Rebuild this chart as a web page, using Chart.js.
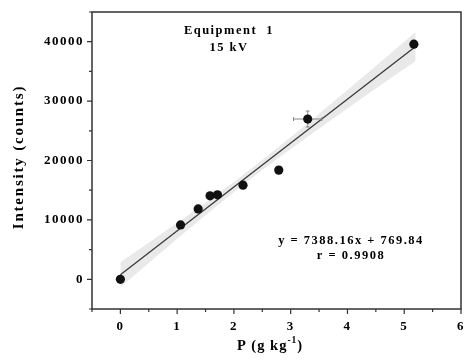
<!DOCTYPE html>
<html><head><meta charset="utf-8">
<script src="https://cdn.jsdelivr.net/npm/chart.js@4/dist/chart.umd.min.js"></script>
<style>html,body{margin:0;padding:0;background:#fff}#wrap{width:466px;height:361px}</style>
</head><body><div id="wrap"><canvas id="c" width="466" height="361"></canvas></div>
<script>
const concP = [0, 1.06, 1.37, 1.58, 1.71, 2.16, 2.79, 3.30, 5.17];
const intensity = [0, 9150, 11850, 14050, 14220, 15850, 18380, 26980, 39580];
const errP = [0, 0, 0, 0, 0, 0, 0, 0.25, 0];
const errI = [0, 0, 0, 0, 0, 0, 0, 1350, 0];
const fitX = [0, 5.2];
const fitY = [769.84, 39188.27];
const bandX = [0, 0.5, 1, 1.5, 2, 2.5, 3, 3.5, 4, 4.5, 5.2];
const bandUpper = [2870, 6160, 9510, 12900, 16400, 20090, 23930, 27880, 31870, 35920, 41640];
const bandLower = [-1330, 2760, 6810, 10800, 14700, 18390, 21930, 25380, 28770, 32120, 36740];
const xTickLabels = [0, 1, 2, 3, 4, 5, 6];
const yTickLabels = [0, 10000, 20000, 30000, 40000];
const xTitle = ['P (g kg', '-1', ')'];
const yTitle = 'Intensity (counts)';
const noteTop = ['Equipment  1', '15 kV'];
const noteEq = ['y = 7388.16x + 769.84', 'r = 0.9908'];

const FONT = "'Liberation Serif', 'Times New Roman', serif";
Chart.defaults.font.family = FONT;
Chart.defaults.color = '#000';

const pts = concP.map((x, i) => ({x, y: intensity[i]}));

const decor = {
  id: 'decor',
  beforeDraw(chart) { chart.ctx.letterSpacing = '1.5px'; },
  beforeDatasetDraw(chart, args) {
    if (args.index !== 3) return;
    const ctx = chart.ctx, xs = chart.scales.x, ys = chart.scales.y;
    ctx.save();
    ctx.strokeStyle = '#888'; ctx.lineWidth = 1;
    concP.forEach((p, i) => {
      const px = xs.getPixelForValue(p), py = ys.getPixelForValue(intensity[i]);
      if (errP[i] > 0) {
        const a = xs.getPixelForValue(p - errP[i]), b = xs.getPixelForValue(p + errP[i]);
        ctx.beginPath(); ctx.moveTo(a, py); ctx.lineTo(b, py);
        ctx.moveTo(a, py - 2); ctx.lineTo(a, py + 2); ctx.moveTo(b, py - 2); ctx.lineTo(b, py + 2); ctx.stroke();
      }
      if (errI[i] > 0) {
        const a = ys.getPixelForValue(intensity[i] + errI[i]), b = ys.getPixelForValue(intensity[i] - errI[i]);
        ctx.beginPath(); ctx.moveTo(px, a); ctx.lineTo(px, b);
        ctx.moveTo(px - 2, a); ctx.lineTo(px + 2, a); ctx.moveTo(px - 2, b); ctx.lineTo(px + 2, b); ctx.stroke();
      }
    });
    ctx.restore();
  },
  afterDraw(chart) {
    const ctx = chart.ctx, ca = chart.chartArea, xs = chart.scales.x, ys = chart.scales.y;
    ctx.save();
    ctx.strokeStyle = '#333'; ctx.lineWidth = 1.5;
    ctx.strokeRect(ca.left, ca.top, ca.right - ca.left, ca.bottom - ca.top);
    ctx.lineWidth = 1.2;
    ctx.beginPath();
    xs.ticks.forEach(t => {
      const px = xs.getPixelForValue(t.value);
      const len = xTickLabels.includes(t.value) ? 5 : 3;
      ctx.moveTo(px, ca.bottom); ctx.lineTo(px, ca.bottom + len);
    });
    ys.ticks.forEach(t => {
      const py = ys.getPixelForValue(t.value);
      const len = yTickLabels.includes(t.value) ? 5 : 3;
      ctx.moveTo(ca.left, py); ctx.lineTo(ca.left - len, py);
    });
    ctx.stroke();

    ctx.fillStyle = '#000';
    ctx.textAlign = 'center'; ctx.textBaseline = 'middle';
    ctx.letterSpacing = '1.5px';
    ctx.font = "bold 12.5px " + FONT;
    ctx.fillText(noteTop[0], 229, 31);
    ctx.fillText(noteTop[1], 229, 48);
    ctx.fillText(noteEq[0], 351, 241);
    ctx.fillText(noteEq[1], 351, 256);
    ctx.font = "bold 15px " + FONT;
    ctx.letterSpacing = '1.8px';
    ctx.save();
    ctx.translate(19, 157);
    ctx.rotate(-Math.PI / 2);
    ctx.fillText(yTitle, 0, 0);
    ctx.restore();
    ctx.textAlign = 'left';
    ctx.letterSpacing = '1px';
    ctx.font = "bold 14.5px " + FONT;
    const w0 = ctx.measureText(xTitle[0]).width;
    ctx.font = "bold 9.5px " + FONT;
    const w1 = ctx.measureText(xTitle[1]).width;
    ctx.font = "bold 14.5px " + FONT;
    const w2 = ctx.measureText(xTitle[2]).width;
    let x0 = 270 - (w0 + w1 + w2) / 2;
    const by = 350;
    ctx.textBaseline = 'alphabetic';
    ctx.fillText(xTitle[0], x0, by);
    ctx.font = "bold 9.5px " + FONT;
    ctx.fillText(xTitle[1], x0 + w0, by - 7);
    ctx.font = "bold 14.5px " + FONT;
    ctx.fillText(xTitle[2], x0 + w0 + w1, by);
    ctx.restore();
  }
};

new Chart(document.getElementById('c'), {
  type: 'scatter',
  data: {
    datasets: [
      {data: bandX.map((x, i) => ({x, y: bandUpper[i]})), showLine: true, borderWidth: 0, pointRadius: 0,
       fill: '+1', backgroundColor: '#e9e9e9', borderColor: 'rgba(0,0,0,0)', order: 3},
      {data: bandX.map((x, i) => ({x, y: bandLower[i]})), showLine: true, borderWidth: 0, pointRadius: 0,
       fill: false, borderColor: 'rgba(0,0,0,0)', order: 4},
      {data: fitX.map((x, i) => ({x, y: fitY[i]})), showLine: true, borderWidth: 1.3, pointRadius: 0,
       borderColor: '#3a3a3a', fill: false, order: 2},
      {data: pts, pointRadius: 4.6, pointBackgroundColor: '#111', pointBorderColor: '#111', pointBorderWidth: 0, order: 1}
    ]
  },
  options: {
    responsive: false, animation: false,
    layout: {padding: {top: 12, right: 5, left: 0, bottom: 0}},
    plugins: {legend: {display: false}, tooltip: {enabled: false}},
    scales: {
      x: {
        type: 'linear', min: -0.5, max: 6,
        grid: {display: false, drawTicks: false}, border: {display: false},
        afterFit: s => { s.height = 52; s.paddingLeft = 0; s.paddingRight = 0; },
        ticks: {stepSize: 0.5, autoSkip: false, maxRotation: 0, padding: 10,
          font: {size: 13, weight: 'bold'}, color: '#000',
          callback: v => xTickLabels.includes(v) ? String(v) : ''}
      },
      y: {
        type: 'linear', min: -5000, max: 45000,
        grid: {display: false, drawTicks: false}, border: {display: false},
        afterFit: s => { s.width = 92; s.paddingTop = 0; s.paddingBottom = 0; },
        ticks: {stepSize: 5000, autoSkip: false, padding: 8,
          font: {size: 13, weight: 'bold'}, color: '#000',
          callback: v => yTickLabels.includes(v) ? String(v) : ''}
      }
    }
  },
  plugins: [decor]
});
</script>
</body></html>
